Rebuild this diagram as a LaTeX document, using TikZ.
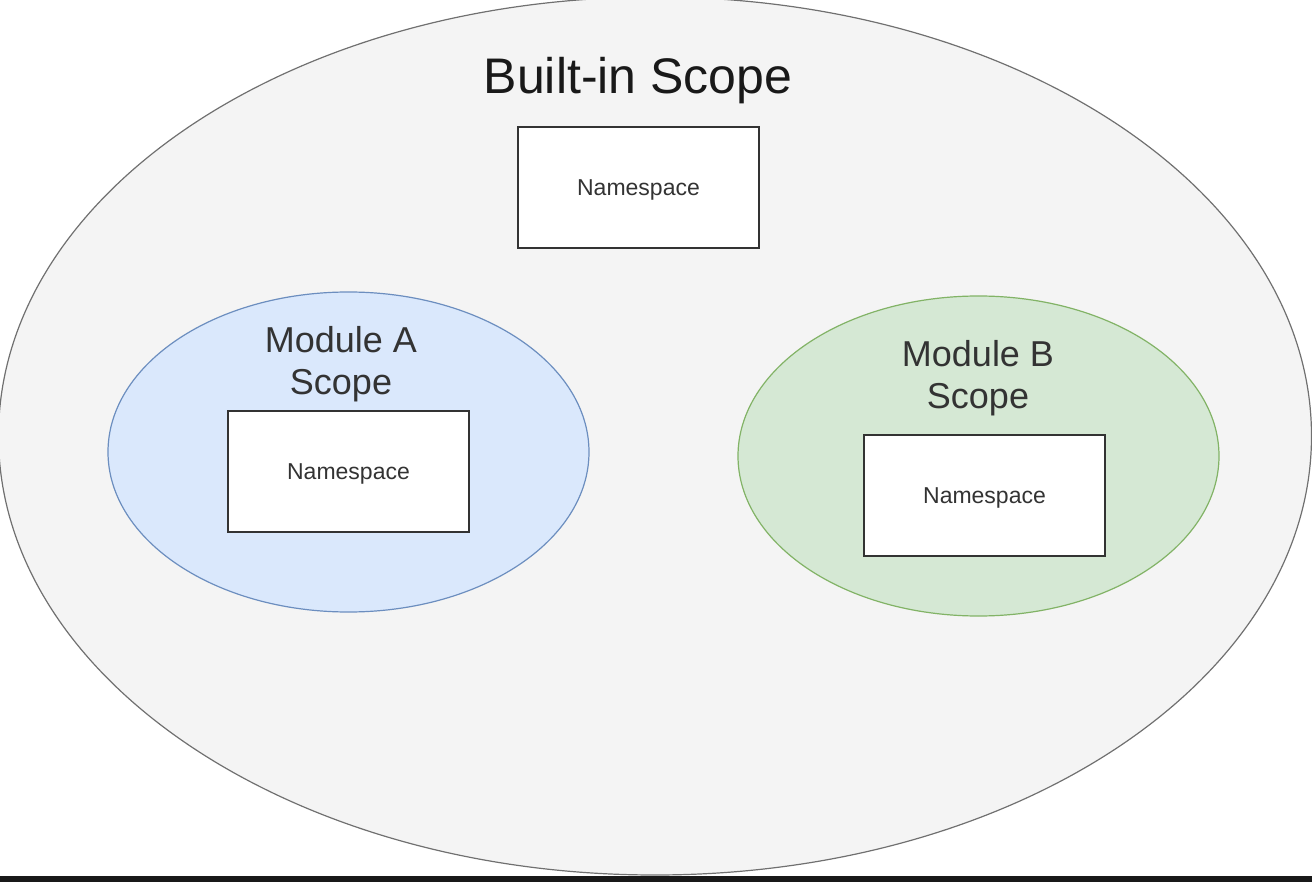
\documentclass[tikz,border=0pt]{standalone}
\usepackage{fontspec}
\setmainfont{Liberation Sans}
\usetikzlibrary{shapes.geometric,positioning}
\definecolor{outerfill}{HTML}{F4F4F4}
\definecolor{outerline}{HTML}{707070}
\definecolor{afill}{HTML}{DAE8FC}
\definecolor{aline}{HTML}{6C8EBF}
\definecolor{bfill}{HTML}{D5E8D4}
\definecolor{bline}{HTML}{82B366}
\definecolor{txt}{HTML}{333333}
\tikzset{scopeell/.style={ellipse,draw,inner sep=0pt,line width=1.2pt},
  nsbox/.style={rectangle,draw=black!80,fill=white,line width=1.5pt,minimum width=241pt,minimum height=121pt,text depth=0pt,font=\fontsize{23}{27}\selectfont,text=txt},
  scopelbl/.style={align=center,font=\fontsize{36}{42}\selectfont,text=txt}}

\begin{document}
\begin{tikzpicture}[x=1pt,y=-1pt]
    \useasboundingbox (0,0) rectangle (1312,882);

    % outer scope
    \node[scopeell,fill=outerfill,draw=outerline,minimum width=1313pt,minimum height=878pt] (builtin) at (655,436) {};
    \node[font=\fontsize{50}{58}\selectfont,text=black!90] (builtinlbl) at (638,81) {Built-in Scope};
    \node[nsbox] (nstop) at (638.5,187.5) {Namespace};

    % module A
    \node[scopeell,fill=afill,draw=aline,minimum width=481pt,minimum height=320pt] (moda) at (348.5,452) {};
    \node[scopelbl] (modalbl) at (341,364) {Module A\\Scope};
    \node[nsbox] (nsa) at (348.5,471.5) {Namespace};

    % module B
    \node[scopeell,fill=bfill,draw=bline,minimum width=481pt,minimum height=320pt] (modb) at (978.5,456) {};
    \node[scopelbl] (modblbl) at (978,378) {Module B\\Scope};
    \node[nsbox] (nsb) at (984.5,495.5) {Namespace};

    \fill[black!90] (0,876) rectangle (1312,882);
\end{tikzpicture}
\end{document}
